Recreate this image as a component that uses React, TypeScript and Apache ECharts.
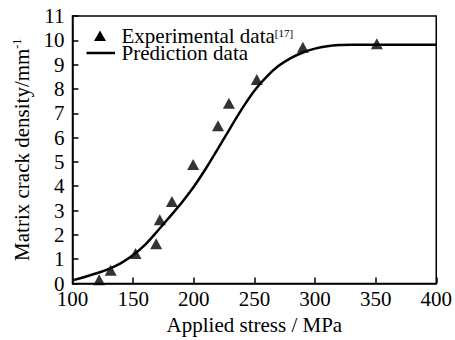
import React, { useEffect, useRef } from "react";
import * as echarts from "echarts";

const expX = [122, 131.5, 152, 169, 172, 182, 199.5, 220, 229, 252, 290, 351];
const expY = [0.15, 0.54, 1.23, 1.63, 2.62, 3.37, 4.89, 6.49, 7.41, 8.39, 9.72, 9.86];

const predX = [100, 110, 120, 130, 140, 150, 160, 170, 180, 190, 200, 210, 220, 230, 240, 250, 260, 270, 280, 290, 300, 310, 320, 330, 340, 360, 380, 400];
const predY = [0.13, 0.27, 0.42, 0.6, 0.84, 1.17, 1.6, 2.15, 2.73, 3.32, 3.98, 4.73, 5.55, 6.38, 7.2, 7.93, 8.5, 8.95, 9.27, 9.5, 9.66, 9.76, 9.81, 9.82, 9.82, 9.82, 9.82, 9.82];

const xTitle = "Applied stress / MPa";
const yTitle = "Matrix crack density/mm";
const yTitleSup = "-1";
const legendExp = "Experimental data";
const legendExpSup = "[17]";
const legendPred = "Prediction data";

const FONT = "'Liberation Serif', 'Times New Roman', serif";
const FS = 21;

export default function App() {
  const ref = useRef<HTMLDivElement>(null);
  useEffect(() => {
    if (!ref.current) return;
    const chart = echarts.init(ref.current, null, { renderer: "svg" });
    chart.setOption({
      animation: false,
      backgroundColor: "#fff",
      textStyle: { fontFamily: FONT, color: "#000" },
      grid: {
        left: 72.5,
        right: 18,
        top: 16,
        bottom: 54,
        show: true,
        borderColor: "#000",
        borderWidth: 1.5,
      },
      xAxis: {
        type: "value",
        min: 100,
        max: 400,
        interval: 50,
        name: xTitle,
        nameLocation: "middle",
        nameGap: 32,
        nameTextStyle: { fontFamily: FONT, fontSize: FS, color: "#000", lineHeight: 18 },
        axisLine: { show: true, lineStyle: { color: "#000", width: 1.5 } },
        axisTick: { show: true, inside: true, length: 6, lineStyle: { color: "#000", width: 1.5 } },
        axisLabel: { fontFamily: FONT, fontSize: FS, color: "#000", margin: 8, lineHeight: 14 },
        splitLine: { show: false },
      },
      yAxis: {
        type: "value",
        min: 0,
        max: 11,
        interval: 1,
        name: "{a|" + yTitle + "}{s|" + yTitleSup + "}",
        nameLocation: "middle",
        nameRotate: 90,
        nameGap: 40,
        nameTextStyle: {
          fontFamily: FONT,
          fontSize: FS,
          color: "#000",
          rich: {
            a: { fontFamily: FONT, fontSize: FS, color: "#000", lineHeight: 22 },
            s: { fontFamily: FONT, fontSize: 12, color: "#000", verticalAlign: "top", lineHeight: 22 },
          },
        },
        axisLine: { show: true, lineStyle: { color: "#000", width: 1.5 } },
        axisTick: { show: true, inside: true, length: 6, lineStyle: { color: "#000", width: 1.5 } },
        axisLabel: { fontFamily: FONT, fontSize: FS, color: "#000", margin: 8, lineHeight: 14 },
        splitLine: { show: false },
      },
      graphic: [
        {
          type: "polygon",
          shape: { points: [[94, 41], [106, 41], [100, 30.5]] },
          style: { fill: "#000" },
        },
        {
          type: "line",
          shape: { x1: 86.5, y1: 53, x2: 115, y2: 53 },
          style: { stroke: "#000", lineWidth: 2.5 },
        },
        {
          type: "text",
          x: 121.5,
          y: 27.5,
          style: {
            text: "{a|" + legendExp + "}{s|" + legendExpSup + "}\n{a|" + legendPred + "}",
            fontFamily: FONT,
            fontSize: FS,
            fill: "#000",
            verticalAlign: "top",
            rich: {
              a: { fontFamily: FONT, fontSize: FS, fill: "#000", lineHeight: 17 },
              s: { fontFamily: FONT, fontSize: 11, fill: "#000", verticalAlign: "top", lineHeight: 17 },
            },
          },
        },
      ],
      series: [
        {
          name: legendPred,
          type: "line",
          data: predX.map((x, i) => [x, predY[i]]),
          smooth: 0.3,
          showSymbol: false,
          symbol: "none",
          lineStyle: { color: "#000", width: 2.5 },
          z: 2,
        },
        {
          name: legendExp,
          type: "scatter",
          data: expX.map((x, i) => [x, expY[i]]),
          symbol: "triangle",
          symbolSize: [12, 11],
          itemStyle: { color: "#000" },
          z: 3,
        },
      ],
    });
    return () => chart.dispose();
  }, []);
  return <div ref={ref} style={{ width: 455, height: 340, position: "absolute", left: 0, top: 0 }} />;
}
